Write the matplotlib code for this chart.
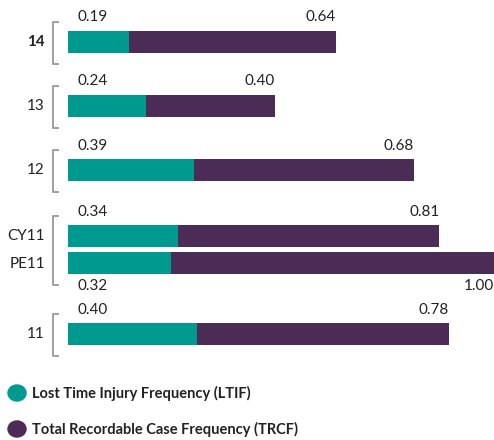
import matplotlib.pyplot as plt
from matplotlib.patches import Circle

plt.rcParams['font.family'] = ['Lato', 'DejaVu Sans']

# data
labels = ["14", "13", "12", "CY11", "PE11", "11"]
ltif = [0.19, 0.24, 0.39, 0.34, 0.32, 0.40]
trcf = [0.64, 0.40, 0.68, 0.81, 1.00, 0.78]
legend_labels = ["Lost Time Injury Frequency (LTIF)",
                 "Total Recordable Case Frequency (TRCF)"]

# layout (pixel y positions of bar centres, label below for PE11)
ypos = [42, 106, 170.5, 236.5, 263.5, 334.5]
label_below = [False, False, False, False, True, False]
groups = [(0, 0), (1, 1), (2, 2), (3, 4), (5, 5)]

TEAL = "#00998f"
PURPLE = "#4a2c56"
GRAY = "#9a9a9a"

W, H = 494, 440
x0 = 68
scale = 323.0  # px per unit

fig = plt.figure(figsize=(W / 100, H / 100), dpi=100)
ax = fig.add_axes([0, 0, 1, 1])
ax.set_xlim(-x0 / scale, (W - x0) / scale)
ax.set_ylim(H, 0)
ax.axis("off")

bh = 22
ax.barh(ypos, ltif, height=bh, color=TEAL, linewidth=0)
ax.barh(ypos, trcf, left=ltif, height=bh, color=PURPLE, linewidth=0)

px = 1 / scale
for i, lab in enumerate(labels):
    y = ypos[i]
    dy = 22 if label_below[i] else -25
    ax.text(10 * px, y + dy, f"{ltif[i]:.2f}", ha="left", va="center",
            fontsize=11, color="#222222")
    ax.text(ltif[i] + trcf[i], y + dy, f"{trcf[i]:.2f}", ha="right",
            va="center", fontsize=11, color="#222222")
    ax.text(-23 * px, y, lab, ha="right", va="center", fontsize=11,
            color="#222222", fontweight="bold" if i == 0 else "normal")

# brackets
for a, b in groups:
    top = ypos[a] - 20
    bot = ypos[b] + 22
    ax.plot([-9 * px, -15 * px, -15 * px, -9 * px], [top, top, bot, bot],
            color=GRAY, lw=1.3, solid_capstyle="butt", clip_on=False)

# legend
for j, (txt, col) in enumerate(zip(legend_labels, [TEAL, PURPLE])):
    ly = 393 + 36 * j
    fig.patches.append(Circle((17 / W, 1 - ly / H), 9 / W, color=col,
                              transform=fig.transFigure))
    fig.text(32 / W, 1 - ly / H, txt, ha="left", va="center", fontsize=10.5,
             fontweight="bold", color="#222222")

fig.savefig("out.png", dpi=100)
